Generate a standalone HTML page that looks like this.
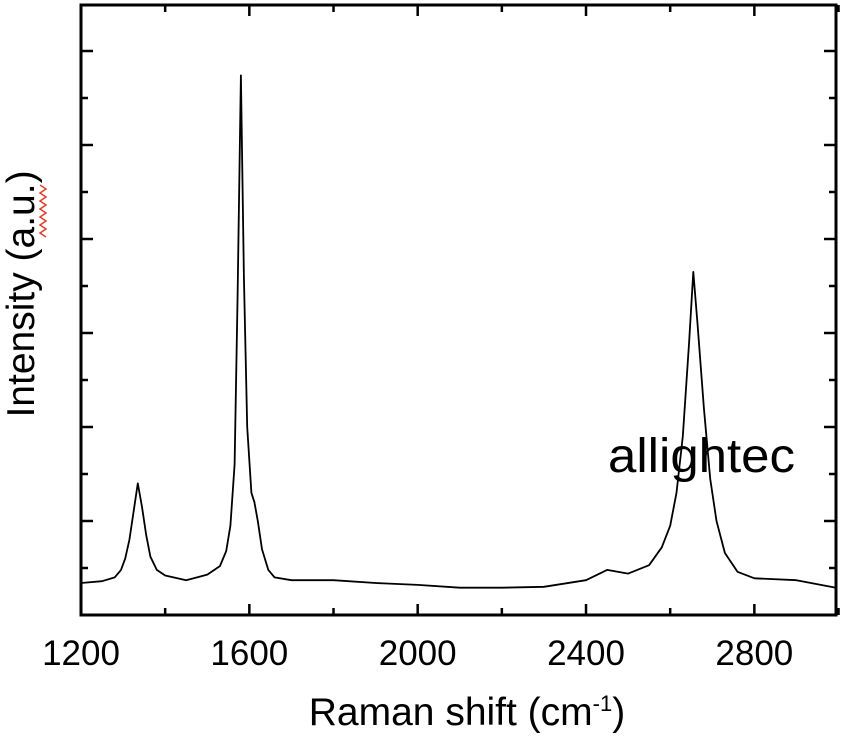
<!DOCTYPE html>
<html><head><meta charset="utf-8"><style>
html,body{margin:0;padding:0;background:#fff;}
svg{display:block;font-family:"Liberation Sans",sans-serif;}
</style></head><body>
<svg id="chart" width="852" height="736" viewBox="0 0 852 736">
<g id="ticks"></g>
<polyline id="spec" fill="none" stroke="#000" stroke-width="1.8" stroke-linejoin="round"/>
<rect x="81" y="5" width="755" height="610" fill="none" stroke="#000" stroke-width="3"/>
<g id="xlabels" font-size="35" text-anchor="middle"></g>
<text x="467" y="725" font-size="39" text-anchor="middle">Raman shift (cm<tspan dy="-14" font-size="22">-1</tspan><tspan dy="14">)</tspan></text>
<text transform="translate(34,294) rotate(-90)" font-size="39" text-anchor="middle">Intensity (a.u.)</text>
<path d="M40,185 l6,4 -6,4 6,4 -6,4 6,4 -6,4 6,4 -6,4 6,4 -6,4 6,4 -6,4 6,4" fill="none" stroke="#e0402a" stroke-width="1.5"/>
<text x="608" y="472" font-size="48" textLength="187" lengthAdjust="spacingAndGlyphs">allightec</text>
</svg>
<script>
const xTicks = [1200, 1600, 2000, 2400, 2800];
const shifts = [1200,1250,1280,1295,1305,1315,1325,1335,1345,1355,1365,1380,1400,1450,1500,1530,1545,1555,1565,1572,1580,1587,1595,1605,1612,1620,1630,1645,1660,1700,1800,1900,2000,2100,2200,2300,2400,2450,2500,2550,2580,2600,2615,2630,2645,2655,2665,2680,2695,2710,2730,2760,2800,2900,2994];
const intensity = [0.34,0.36,0.40,0.48,0.60,0.80,1.10,1.40,1.15,0.85,0.62,0.48,0.42,0.37,0.43,0.52,0.68,0.95,1.60,3.40,5.74,3.60,2.00,1.30,1.20,1.00,0.70,0.48,0.40,0.37,0.37,0.34,0.32,0.29,0.29,0.30,0.37,0.48,0.44,0.53,0.72,0.95,1.30,1.90,2.90,3.65,3.10,2.20,1.45,1.00,0.66,0.46,0.39,0.37,0.29];
const X0=81, X1=836, XMIN=1200, XMAX=2994, Y0=615, UNIT=94;
function xs(v){return X0+(v-XMIN)/(XMAX-XMIN)*(X1-X0);}
function ys(v){return Y0-v*UNIT;}
const NS="http://www.w3.org/2000/svg";
document.getElementById('spec').setAttribute('points', shifts.map((s,i)=>xs(s).toFixed(1)+','+ys(intensity[i]).toFixed(1)).join(' '));
const tg=document.getElementById('ticks');
function line(x1,y1,x2,y2){const l=document.createElementNS(NS,'line');l.setAttribute('x1',x1);l.setAttribute('y1',y1);l.setAttribute('x2',x2);l.setAttribute('y2',y2);l.setAttribute('stroke','#000');l.setAttribute('stroke-width','2.5');


tg.appendChild(l);}
for(let v=1200; v<=3000; v+=200){const x=xs(v);const major=(v-1200)%400===0;const len=major?11:7;line(x,615,x,615-len);line(x,5,x,5+len);}
for(let k=1;k<=12;k++){const y=615-k*47;const major=k%2===0;const len=major?12:7;line(81,y,81+len,y);line(836,y,836-len,y);}
const xl=document.getElementById('xlabels');
xTicks.forEach(v=>{const t=document.createElementNS(NS,'text');t.setAttribute('x',xs(v));t.setAttribute('y',665);t.textContent=v;


xl.appendChild(t);});
</script>
</body></html>
